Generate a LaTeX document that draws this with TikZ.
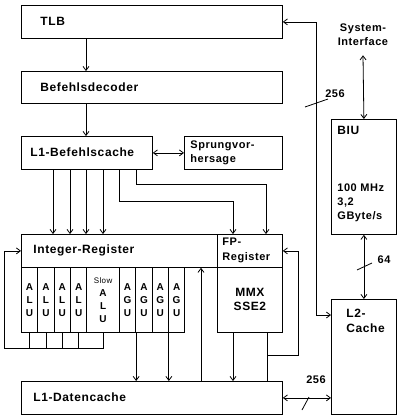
\documentclass[tikz,border=0pt]{standalone}
\usepackage{fontspec}
\setmainfont{Liberation Sans}[LetterSpace=5]
\usetikzlibrary{arrows.meta}
\newcommand\blkfont{\bfseries\fontsize{12}{14}\selectfont}
\newcommand\smlfont{\bfseries\fontsize{11}{14}\selectfont}
\tikzset{
  blk/.style={draw, anchor=north west, inner sep=0pt},
  lbl/.style={anchor=west, inner sep=0pt, align=left, font=\blkfont},
  cell/.style={blk, minimum width=16.35pt, minimum height=65pt, align=center,
    font=\bfseries\fontsize{10}{13}\selectfont},
  num/.style={inner sep=0pt, font=\smlfont},
}
\begin{document}
\begin{tikzpicture}[x=1pt,y=-1pt,line width=0.8pt,
  >={Straight Barb[length=4pt,width=6pt]}]
\useasboundingbox (0,0) rectangle (400,418);
% Bloecke
\node[blk,minimum width=261pt,minimum height=33pt] (tlb) at (21,5) {};
\node[lbl] (tlbt) at (40,21.5) {TLB};
\node[blk,minimum width=261pt,minimum height=32pt] (dec) at (21,71) {};
\node[lbl] (dect) at (40,87) {Befehlsdecoder};
\node[blk,minimum width=131pt,minimum height=33pt] (l1i) at (21,136) {};
\node[lbl] (l1it) at (30,152.5) {L1-Befehlscache};
\node[blk,minimum width=98pt,minimum height=33pt] (bp) at (184,136) {};
\node[lbl,font=\smlfont] (bpt) at (190,152.5) {Sprungvor-\\hersage};
\node[blk,minimum width=196pt,minimum height=33pt] (intreg) at (21,234) {};
\node[lbl] (intregt) at (33,250.5) {Integer-Register};
\node[blk,minimum width=65pt,minimum height=33pt] (fpreg) at (217,234) {};
\node[lbl,font=\smlfont] (fpregt) at (222,250.5) {FP-\\[1pt]Register};
\node[blk,minimum width=65pt,minimum height=65pt,align=center,font=\blkfont] (mmx) at (217,267) {MMX\\SSE2};
% Rechenwerke
\foreach \i in {1,...,4}
  \node[cell] (alu\i) at ({21+16.35*(\i-1)},267) {A\\L\\U};
\node[cell,minimum width=32.6pt] (slow) at (86.4,267)
  {{\mdseries\fontsize{8}{9}\selectfont Slow}\\A\\L\\U};
\foreach \i in {1,...,4}
  \node[cell] (agu\i) at ({119+16.35*(\i-1)},267) {A\\G\\U};
\node[blk,minimum width=261pt,minimum height=33pt] (l1d) at (21,381) {};
\node[lbl] (l1dt) at (33,397.5) {L1-Datencache};
\node[blk,minimum width=65pt,minimum height=115pt] (biu) at (331,119) {};
\node[lbl] (biut) at (337,130) {BIU};
\node[lbl,font=\smlfont] (biuf) at (337,203) {100 MHz\\3,2\\GByte/s};
\node[blk,minimum width=65pt,minimum height=115pt] (l2) at (331,299) {};
\node[lbl] (l2t) at (346,321) {L2-\\[1pt]Cache};
\node[num,align=center] (sysif) at (363,35) {System-\\Interface};
% Verbindungen
\draw[->] ([xshift=65pt]tlb.south west) -- ([xshift=65pt]dec.north west);
\draw[->] ([xshift=65pt]dec.south west) -- ([xshift=65pt]l1i.north west);
\draw[<->] (l1i.east) -- (bp.west);
\foreach \dx in {32,49,65,82}
  \draw[->] ([xshift=\dx pt]l1i.south west) -- ([xshift=\dx pt]intreg.north west);
\draw[->] ([xshift=98pt]l1i.south west) -- ++(0,32) -| ([xshift=16pt]fpreg.north west);
\draw[->] ([xshift=115pt]l1i.south west) -- ++(0,15) -| ([xshift=49pt]fpreg.north west);
\foreach \c in {alu1,alu2,alu3,alu4,slow}
  \draw (\c.south) -- ++(0,16);
\draw[->] ([yshift=-16pt]slow.south) -- ++(-98.7,0) |- (intreg.west);
\draw[->] (agu1.south east) -- (agu1.south east |- l1d.north);
\draw[->] (agu3.south east) -- (agu3.south east |- l1d.north);
\draw[->] ([xshift=16pt]mmx.south west) -- ([xshift=16pt]mmx.south west |- l1d.north);
\draw ([xshift=50pt]mmx.south west) -- ([xshift=50pt]mmx.south west |- l1d.north);
\draw[->] ([xshift=50pt,yshift=-23pt]mmx.south west) -- ++(31,0) |- (fpreg.east);
\draw[->] ([xshift=180pt]l1d.north west) -- ([xshift=180pt]l1d.north west |- intreg.south);
% Busse
\draw[<->] (tlb.east) -- ++(34,0) |- ([yshift=-16pt]l2.north west);
\draw (305,107) -- (328,99);
\node[num] (w256a) at (335,94) {256};
\draw[<->] ([yshift=-9pt]sysif.south) -- (biu.north);
\draw[<->] (biu.south) -- (l2.north);
\draw (357,270) -- (372,263);
\node[num] (w64) at (384,260) {64};
\draw[<->] (l1d.east) -- (l1d.east -| l2.west);
\draw (302,410) -- (309,397);
\node[num] (w256b) at (316,380) {256};
\end{tikzpicture}
\end{document}
